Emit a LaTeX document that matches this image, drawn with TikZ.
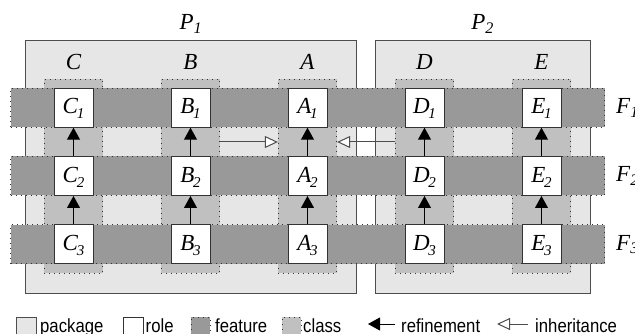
\documentclass[tikz,border=0pt]{standalone}
\usepackage{fontspec}
\setmainfont{Liberation Serif}
\setsansfont{Liberation Sans}[FakeStretch=0.88]
\usetikzlibrary{arrows.meta}
\definecolor{pkgfill}{HTML}{E6E6E6}
\definecolor{clsfill}{HTML}{C0C0C0}
\definecolor{featfill}{HTML}{999999}
\definecolor{edgecol}{HTML}{4D4D4D}
\definecolor{dotcol}{HTML}{333333}
\newcommand\rolelab[2]{\textit{#1}\raisebox{-5pt}{\fontsize{15}{15}\selectfont\kern-1.5pt\textit{#2}}}
\tikzset{
  pkg/.style={draw=edgecol, line width=0.9pt, fill=pkgfill, inner sep=0pt},
  cls/.style={draw=dotcol, line width=0.8pt, dash pattern=on 1pt off 4pt, fill=clsfill, inner sep=0pt, minimum width=58.5pt, minimum height=194.3pt},
  feat/.style={draw=dotcol, line width=0.8pt, dash pattern=on 1pt off 4pt, fill=featfill, inner sep=0pt, minimum width=594pt, minimum height=39pt},
  role/.style={draw=black!80, line width=1pt, fill=white, inner sep=0pt, minimum width=39pt, minimum height=39pt, text height=12.6pt, text depth=0pt, font=\fontsize{23}{23}\selectfont},
  lbl/.style={anchor=base, inner sep=0pt, font=\fontsize{23}{23}\selectfont\itshape},
  legtext/.style={anchor=base west, inner sep=0pt, font=\sffamily\fontsize{19}{19}\selectfont},
  refarrow/.style={draw=black, line width=1pt, -{Triangle[length=12pt, width=13pt]}},
  inharrow/.style={draw=edgecol, line width=1pt, -{Triangle[open, length=13pt, width=12pt, fill=white]}},
}
\begin{document}
\begin{tikzpicture}[x=1pt,y=-1pt]
\useasboundingbox (0,0) rectangle (635,334);
% packages
\node[pkg, minimum width=331.7pt, minimum height=253pt] (P1) at (190.85,166.5) {};
\node[pkg, minimum width=214.7pt, minimum height=253pt] (P2) at (482.65,166.5) {};
\node[lbl] (P1l) at (190.85,30) {P\textsubscript{\textit{1}}};
\node[lbl] (P2l) at (482.65,30) {P\textsubscript{\textit{2}}};
% classes
\foreach \n/\x in {C/73.5,B/190.5,A/307.5,D/424.5,E/541.5}{
  \node[cls] (c\n) at (\x,176.2) {};
  \node[lbl] (l\n) at (\x,70) {\n};
}
% features
\foreach \r/\y in {1/107.7,2/176,3/244.3}{
  \node[feat] (F\r) at (307.7,\y) {};
  \node[lbl, anchor=base west] (F\r l) at (616,\y+5.8) {F\textsubscript{\textit{\r}}};
}
% roles
\foreach \n/\x in {C/73.5,B/190.5,A/307.5,D/424.5,E/541.5}{
  \foreach \r/\y in {1/107.7,2/176,3/244.3}{
    \node[role] (\n\r) at (\x,\y) {\rolelab{\n}{\r}};
  }
  \draw[refarrow] (\n2) -- (\n1);
  \draw[refarrow] (\n3) -- (\n2);
}
% inheritance
\coordinate (g12) at (0,142);
\draw[inharrow] (cB.east |- g12) -- (cA.west |- g12);
\draw[inharrow] (cD.west |- g12) -- (cA.east |- g12);
% legend
\node[pkg, minimum width=20pt, minimum height=20pt] (lgp) at (26,327) {};
\node[legtext] (lgpt) at (40,332) {package};
\node[draw=black!80, line width=1pt, fill=white, minimum width=20pt, minimum height=20pt, inner sep=0pt] (lgr) at (133,327) {};
\node[legtext] (lgrt) at (145.5,332) {role};
\node[draw=dotcol, line width=0.8pt, dash pattern=on 1pt off 4pt, fill=featfill, minimum width=19pt, minimum height=20pt, inner sep=0pt] (lgf) at (200.5,327) {};
\node[legtext] (lgft) at (215,332) {feature};
\node[draw=dotcol, line width=0.8pt, dash pattern=on 1pt off 4pt, fill=clsfill, minimum width=19pt, minimum height=20pt, inner sep=0pt] (lgc) at (291.5,327) {};
\node[legtext] (lgct) at (303,332) {class};
\coordinate (ra) at (395,324);
\coordinate (rb) at (368,324);
\draw[refarrow] (ra) -- (rb);
\node[legtext] (lgrf) at (401,332) {refinement};
\coordinate (ia) at (528,324);
\coordinate (ib) at (497,324);
\draw[inharrow] (ia) -- (ib);
\node[legtext] (lgih) at (535,332) {inheritance};
\end{tikzpicture}
\end{document}
